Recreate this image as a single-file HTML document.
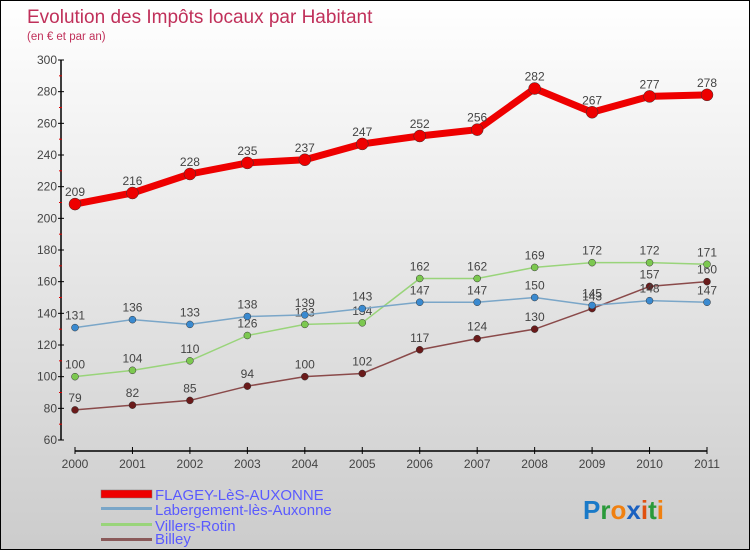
<!DOCTYPE html>
<html><head><meta charset="utf-8"><style>
body{margin:0;padding:0}
#wrap{width:750px;height:550px;position:relative;box-sizing:border-box;border:1px solid #000;background:linear-gradient(#fff,#ccc);font-family:"Liberation Sans","DejaVu Sans",sans-serif;overflow:hidden}
</style></head><body>
<div id="wrap">
<svg id="chart" width="748" height="548" style="position:absolute;left:0;top:0">
<text x="26" y="22" font-size="19" fill="#c0305a">Evolution des Impôts locaux par Habitant</text>
<text x="26" y="39" font-size="11.5" fill="#c0305a">(en € et par an)</text>
<g id="axes"></g><g id="series"></g>
<g font-size="15" fill="#5a5aff">
<rect x="100" y="489" width="51" height="8" fill="#e00" stroke="#777" stroke-width="0.5"/>
<text x="154" y="499">FLAGEY-LèS-AUXONNE</text>
<rect x="100" y="506" width="51" height="3" fill="#7aa6c8"/>
<text x="154" y="514">Labergement-lès-Auxonne</text>
<rect x="100" y="522" width="51" height="3" fill="#99d47a"/>
<text x="154" y="530">Villers-Rotin</text>
<rect x="100" y="537" width="51" height="3" fill="#8a5a5a"/>
<text x="154" y="543">Billey</text>
</g>
<text x="582" y="518" font-size="26" font-weight="bold"><tspan fill="#1a7ac8">P</tspan><tspan fill="#2a9a3a">r</tspan><tspan fill="#f08010">o</tspan><tspan fill="#1a60c0">x</tspan><tspan fill="#e05010">i</tspan><tspan fill="#2a9a3a">t</tspan><tspan fill="#f08010">i</tspan></text>
</svg>
</div>
<script>
const years=[2000,2001,2002,2003,2004,2005,2006,2007,2008,2009,2010,2011];
const flagey=[209,216,228,235,237,247,252,256,282,267,277,278];
const labergement=[131,136,133,138,139,143,147,147,150,145,148,147];
const villers=[100,104,110,126,133,134,162,162,169,172,172,171];
const billey=[79,82,85,94,100,102,117,124,130,143,157,160];
const yTicks=[60,80,100,120,140,160,180,200,220,240,260,280,300];
const NS="http://www.w3.org/2000/svg";
const X=i=>74+i*(632/11);
const Y=v=>439-(v-60)*(380/240);
function mk(tag,attrs,parent){const e=document.createElementNS(NS,tag);for(const k in attrs)e.setAttribute(k,attrs[k]);parent.appendChild(e);return e;}
const axes=document.getElementById('axes'),ser=document.getElementById('series');
let a=mk('line',{x1:60,y1:Y(300),x2:60,y2:Y(60),stroke:'#000','stroke-width':1.5},axes);


yTicks.forEach((t,i)=>{
 mk('line',{x1:57,y1:Y(t),x2:63,y2:Y(t),stroke:'#000'},axes);
 if(t<300){mk('line',{x1:58,y1:Y(t+10),x2:61,y2:Y(t+10),stroke:'#d00'},axes);}
 const tx=mk('text',{x:56,y:Y(t)+4,'text-anchor':'end','font-size':12,fill:'#444'},axes);
 tx.textContent=t;
 
 
});
let xa=mk('line',{x1:X(0),y1:450,x2:X(11),y2:450,stroke:'#000','stroke-width':1.5},axes);


years.forEach((y,i)=>{
 mk('line',{x1:X(i),y1:446,x2:X(i),y2:453,stroke:'#000'},axes);
 const tx=mk('text',{x:X(i),y:467,'text-anchor':'middle','font-size':12,fill:'#444'},axes);
 tx.textContent=y;
 
 
});
function series(data,name,color,w,r,dot){
 const g=mk('g',{},ser);
 
 
 mk('polyline',{points:data.map((v,i)=>X(i)+','+Y(v)).join(' '),fill:'none',stroke:color,'stroke-width':w,'stroke-linejoin':'round'},g);
 data.forEach((v,i)=>{
  const c=mk('circle',{cx:X(i),cy:Y(v),r:r,fill:dot,stroke:'#333','stroke-width':0.5},g);
  
  
  const t=mk('text',{x:X(i),y:Y(v)-8,'text-anchor':'middle','font-size':12,fill:'#444'},g);
  t.textContent=v;
  
  
 });
}
series(billey,'billey','#8a4a4a',1.5,3.5,'#6a1a1a');
series(villers,'villers','#99d47a',1.5,3.5,'#7cc850');
series(labergement,'labergement','#7aa6c8',1.5,3.5,'#3a8ad0');
series(flagey,'flagey','#e00',7,6,'#e00');
</script>
</body></html>
